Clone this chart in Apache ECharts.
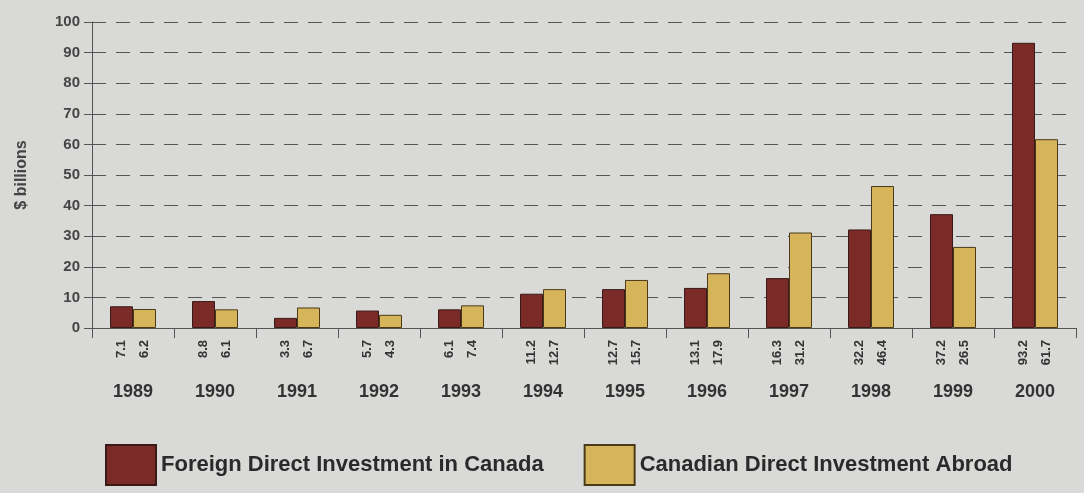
<!DOCTYPE html>
<html>
<head>
<meta charset="utf-8">
<script src="https://cdn.jsdelivr.net/npm/echarts@6/dist/echarts.min.js"></script>
<style>
    html, body { margin: 0; padding: 0; background: #d9d9d7; }
    #chart { width: 1084px; height: 493px; }
</style>
</head>
<body>
<div id="chart"></div>
<script>
    // data
    let years = ['1989', '1990', '1991', '1992', '1993', '1994', '1995', '1996', '1997', '1998', '1999', '2000']
    let foreignIn = [7.1, 8.8, 3.3, 5.7, 6.1, 11.2, 12.7, 13.1, 16.3, 32.2, 37.2, 93.2]
    let canadianOut = [6.2, 6.1, 6.7, 4.3, 7.4, 12.7, 15.7, 17.9, 31.2, 46.4, 26.5, 61.7]

    let chart = echarts.init(document.getElementById('chart'))

    /*
    * value printed vertically under each bar
    * */
    let valueLabel = {
        show: true,
        position: 'bottom',
        distance: 12,
        rotate: 90,
        align: 'right',
        verticalAlign: 'middle',
        color: '#333',
        fontFamily: 'Liberation Sans',
        fontSize: 13,
        fontWeight: 'bold'
    }

    chart.setOption({
        backgroundColor: '#d9d9d7',
        grid: { left: 92, right: 8, top: 22, bottom: 165 },
        legend: {
            left: 100,
            bottom: 2,
            icon: 'rect',
            itemWidth: 50,
            itemHeight: 40,
            itemGap: 40,
            textStyle: { color: '#2a2a2a', fontFamily: 'Liberation Sans', fontSize: 22, fontWeight: 'bold', padding: [8, 0, 0, 0] },
            data: ['Foreign Direct Investment in Canada', 'Canadian Direct Investment Abroad']
        },
        xAxis: {
            type: 'category',
            data: years,
            axisLine: { lineStyle: { color: '#555', width: 1 } },
            axisTick: { show: true, length: 10, lineStyle: { color: '#555' } },
            axisLabel: {
                margin: 55,
                color: '#333',
                fontFamily: 'Liberation Sans',
                fontSize: 18,
                fontWeight: 'bold'
            }
        },
        yAxis: {
            type: 'value',
            min: 0,
            max: 100,
            interval: 10,
            name: '$ billions',
            nameLocation: 'middle',
            nameGap: 62,
            nameTextStyle: { color: '#444', fontFamily: 'Liberation Sans', fontSize: 16, fontWeight: 'bold' },
            axisLine: { show: true, lineStyle: { color: '#555' } },
            axisTick: { show: true, length: 8, lineStyle: { color: '#555' } },
            axisLabel: { color: '#444', fontFamily: 'Liberation Sans', fontSize: 15, fontWeight: 'bold', margin: 12 },
            splitLine: { lineStyle: { color: '#555', type: [14, 10], width: 1 } }
        },
        series: [{
            name: 'Foreign Direct Investment in Canada',
            type: 'bar',
            data: foreignIn,
            barWidth: 23,
            barGap: '0%',
            itemStyle: { color: '#7b2b27', borderColor: '#3a1a16', borderWidth: 1 },
            label: valueLabel
        }, {
            name: 'Canadian Direct Investment Abroad',
            type: 'bar',
            data: canadianOut,
            barWidth: 23,
            itemStyle: { color: '#d6b55a', borderColor: '#4a3a1a', borderWidth: 1 },
            label: valueLabel
        }]
    })
</script>
</body>
</html>
